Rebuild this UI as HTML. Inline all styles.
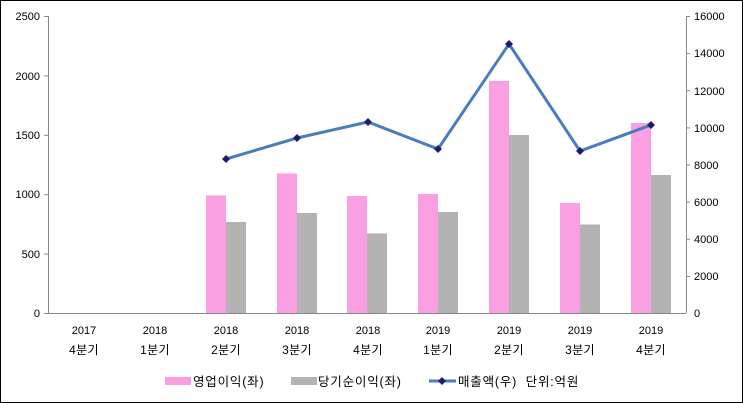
<!DOCTYPE html><html><head><meta charset="utf-8"><style>body{margin:0;background:#fff}svg{display:block}text{font-family:"Liberation Sans","Noto Sans CJK KR",sans-serif;font-size:11px;fill:#000}.k{font-size:12px;letter-spacing:0.3px}.lg{font-size:12.5px;letter-spacing:0.8px}</style></head><body>
<svg width="743" height="403" xmlns="http://www.w3.org/2000/svg">
<rect x="0.5" y="0.5" width="742" height="402" fill="#fff" stroke="#000"/>
<g stroke="#888" stroke-width="1">
<line x1="48.5" y1="16" x2="48.5" y2="313"/><line x1="686.5" y1="16" x2="686.5" y2="313"/>
<line x1="48" y1="313.5" x2="686" y2="313.5"/>
</g>
<g stroke="#888">
<line x1="44" y1="16.5" x2="48" y2="16.5"/><line x1="44" y1="75.9" x2="48" y2="75.9"/><line x1="44" y1="135.3" x2="48" y2="135.3"/><line x1="44" y1="194.7" x2="48" y2="194.7"/><line x1="44" y1="254.1" x2="48" y2="254.1"/><line x1="44" y1="313.5" x2="48" y2="313.5"/>
<line x1="686" y1="16.5" x2="690" y2="16.5"/><line x1="686" y1="53.6" x2="690" y2="53.6"/><line x1="686" y1="90.8" x2="690" y2="90.8"/><line x1="686" y1="127.9" x2="690" y2="127.9"/><line x1="686" y1="165" x2="690" y2="165"/><line x1="686" y1="202.1" x2="690" y2="202.1"/><line x1="686" y1="239.3" x2="690" y2="239.3"/><line x1="686" y1="276.4" x2="690" y2="276.4"/>
</g>
<g text-anchor="end"><text x="40" y="20">2500</text><text x="40" y="80">2000</text><text x="40" y="139">1500</text><text x="40" y="198">1000</text><text x="40" y="258">500</text><text x="40" y="317">0</text></g>
<g text-anchor="start"><text x="694" y="20">16000</text><text x="694" y="57">14000</text><text x="694" y="95">12000</text><text x="694" y="132">10000</text><text x="694" y="169">8000</text><text x="694" y="206">6000</text><text x="694" y="243">4000</text><text x="694" y="280">2000</text><text x="694" y="317">0</text></g>
<g fill="#f99fe2">
<rect x="206" y="195.4" width="20" height="117.6"/><rect x="277" y="173.4" width="20" height="139.6"/><rect x="347" y="196" width="20" height="117"/><rect x="418" y="194" width="20" height="119"/><rect x="489" y="81" width="20" height="232"/><rect x="560" y="203" width="20" height="110"/><rect x="631" y="123" width="20" height="190"/>
</g>
<g fill="#b3b3b3">
<rect x="226" y="222" width="20" height="91"/><rect x="297" y="213" width="20" height="100"/><rect x="367" y="233.4" width="20" height="79.6"/><rect x="438" y="212" width="20" height="101"/><rect x="509" y="135" width="20" height="178"/><rect x="580" y="224.5" width="20" height="88.5"/><rect x="651" y="175" width="20" height="138"/>
</g>
<polyline points="226,159 297,138 368,122 438,149 509,44 580,151 651,125" fill="none" stroke="#4a7ebb" stroke-width="3"/>
<g fill="#1f1a6e">
<path d="M226,155 l4,4 -4,4 -4,-4z"/><path d="M297,134 l4,4 -4,4 -4,-4z"/><path d="M368,118 l4,4 -4,4 -4,-4z"/><path d="M438,145 l4,4 -4,4 -4,-4z"/><path d="M509,40 l4,4 -4,4 -4,-4z"/><path d="M580,147 l4,4 -4,4 -4,-4z"/><path d="M651,121 l4,4 -4,4 -4,-4z"/>
</g>
<g text-anchor="middle">
<text x="84" y="334">2017</text><text class="k" x="84" y="354">4분기</text>
<text x="155" y="334">2018</text><text class="k" x="155" y="354">1분기</text>
<text x="226" y="334">2018</text><text class="k" x="226" y="354">2분기</text>
<text x="297" y="334">2018</text><text class="k" x="297" y="354">3분기</text>
<text x="368" y="334">2018</text><text class="k" x="368" y="354">4분기</text>
<text x="438" y="334">2019</text><text class="k" x="438" y="354">1분기</text>
<text x="509" y="334">2019</text><text class="k" x="509" y="354">2분기</text>
<text x="580" y="334">2019</text><text class="k" x="580" y="354">3분기</text>
<text x="651" y="334">2019</text><text class="k" x="651" y="354">4분기</text>
</g>
<rect x="165" y="377" width="26" height="8" fill="#f99fe2"/><text class="lg" x="193" y="386">영업이익(좌)</text>
<rect x="291" y="377" width="26" height="8" fill="#b3b3b3"/><text class="lg" x="318" y="386">당기순이익(좌)</text>
<line x1="429" y1="381" x2="456" y2="381" stroke="#4a7ebb" stroke-width="3"/><path d="M442,377 l4,4 -4,4 -4,-4z" fill="#1f1a6e"/>
<text class="lg" x="458" y="386" xml:space="preserve">매출액(우)  단위:억원</text>
</svg></body></html>
